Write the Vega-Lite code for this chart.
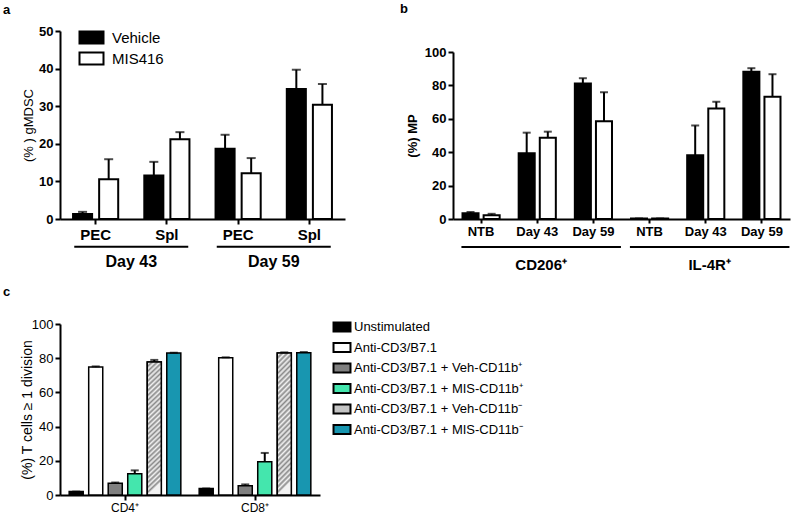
{
  "$schema": "https://vega.github.io/schema/vega-lite/v6.json",
  "padding": {"left": 3, "top": 3, "right": 0, "bottom": 0},
  "config": {
    "font": "Liberation Sans",
    "view": {"stroke": null},
    "axis": {"domainColor": "black", "domainWidth": 2, "tickColor": "black", "tickWidth": 2, "tickSize": 5, "labelColor": "black", "titleColor": "black", "grid": false, "labelOverlap": false},
    "title": {"font": "Liberation Sans", "fontSize": 13, "fontWeight": "bold", "anchor": "start", "color": "black"}
  },
  "datasets": {
    "a": [
      {"site": "PEC 43", "group": "Vehicle", "mean": 1.3, "upper": 1.9},
      {"site": "PEC 43", "group": "MIS416", "mean": 10.6, "upper": 15.9},
      {"site": "Spl 43", "group": "Vehicle", "mean": 11.6, "upper": 15.2},
      {"site": "Spl 43", "group": "MIS416", "mean": 21.2, "upper": 23.1},
      {"site": "PEC 59", "group": "Vehicle", "mean": 18.7, "upper": 22.4},
      {"site": "PEC 59", "group": "MIS416", "mean": 12.2, "upper": 16.2},
      {"site": "Spl 59", "group": "Vehicle", "mean": 34.6, "upper": 39.7},
      {"site": "Spl 59", "group": "MIS416", "mean": 30.4, "upper": 35.9}
    ],
    "aDays": [
      {"day": "Day 43", "from": "PEC 43", "to": "Spl 43"},
      {"day": "Day 59", "from": "PEC 59", "to": "Spl 59"}
    ],
    "b": [
      {"cat": "NTB|CD206", "group": "Vehicle", "mean": 3.4, "upper": 4.2},
      {"cat": "NTB|CD206", "group": "MIS416", "mean": 2.3, "upper": 3.1},
      {"cat": "D43|CD206", "group": "Vehicle", "mean": 39.4, "upper": 51.7},
      {"cat": "D43|CD206", "group": "MIS416", "mean": 48.7, "upper": 52.3},
      {"cat": "D59|CD206", "group": "Vehicle", "mean": 81.1, "upper": 84.3},
      {"cat": "D59|CD206", "group": "MIS416", "mean": 58.6, "upper": 75.9},
      {"cat": "NTB|IL4R", "group": "Vehicle", "mean": 0.3, "upper": 0.3},
      {"cat": "NTB|IL4R", "group": "MIS416", "mean": 0.3, "upper": 0.3},
      {"cat": "D43|IL4R", "group": "Vehicle", "mean": 38.2, "upper": 56.0},
      {"cat": "D43|IL4R", "group": "MIS416", "mean": 66.2, "upper": 70.2},
      {"cat": "D59|IL4R", "group": "Vehicle", "mean": 88.1, "upper": 90.3},
      {"cat": "D59|IL4R", "group": "MIS416", "mean": 73.2, "upper": 86.7}
    ],
    "bGroups": [
      {"marker": "CD206⁺", "from": "NTB|CD206", "mid": "D43|CD206", "to": "D59|CD206"},
      {"marker": "IL-4R⁺", "from": "NTB|IL4R", "mid": "D43|IL4R", "to": "D59|IL4R"}
    ],
    "c": [
      {"cell": "CD4⁺", "treatment": "Unstimulated", "mean": 2.0, "upper": 2.0},
      {"cell": "CD4⁺", "treatment": "Anti-CD3/B7.1", "mean": 74.8, "upper": 75.2},
      {"cell": "CD4⁺", "treatment": "Anti-CD3/B7.1 + Veh-CD11b⁺", "mean": 6.8, "upper": 7.3},
      {"cell": "CD4⁺", "treatment": "Anti-CD3/B7.1 + MIS-CD11b⁺", "mean": 12.4, "upper": 14.4},
      {"cell": "CD4⁺", "treatment": "Anti-CD3/B7.1 + Veh-CD11b⁻", "mean": 77.8, "upper": 79.0},
      {"cell": "CD4⁺", "treatment": "Anti-CD3/B7.1 + MIS-CD11b⁻", "mean": 83.0, "upper": 83.2},
      {"cell": "CD8⁺", "treatment": "Unstimulated", "mean": 3.8, "upper": 3.8},
      {"cell": "CD8⁺", "treatment": "Anti-CD3/B7.1", "mean": 80.2, "upper": 80.5},
      {"cell": "CD8⁺", "treatment": "Anti-CD3/B7.1 + Veh-CD11b⁺", "mean": 5.4, "upper": 6.2},
      {"cell": "CD8⁺", "treatment": "Anti-CD3/B7.1 + MIS-CD11b⁺", "mean": 19.5, "upper": 24.6},
      {"cell": "CD8⁺", "treatment": "Anti-CD3/B7.1 + Veh-CD11b⁻", "mean": 83.0, "upper": 83.4},
      {"cell": "CD8⁺", "treatment": "Anti-CD3/B7.1 + MIS-CD11b⁻", "mean": 83.2, "upper": 83.6}
    ]
  },
  "resolve": {"scale": {"x": "independent", "y": "independent", "xOffset": "independent", "fill": "independent"}, "legend": {"fill": "independent"}},
  "spacing": 13,
  "vconcat": [
    {
      "resolve": {"scale": {"x": "independent", "y": "independent", "xOffset": "independent", "fill": "independent"}, "legend": {"fill": "independent"}},
      "spacing": 55,
      "hconcat": [
        {
          "title": {"text": "a", "dx": -19, "offset": 8},
          "width": 285,
          "height": 188,
          "layer": [
            {
              "data": {"name": "a"},
              "mark": {"type": "bar", "stroke": "black", "strokeWidth": 2},
              "encoding": {
                "x": {"field": "site", "type": "nominal", "scale": {"domain": ["PEC 43", "Spl 43", "PEC 59", "Spl 59"], "paddingInner": 0, "paddingOuter": 0},
                      "axis": {"title": null, "labelExpr": "split(datum.value, ' ')[0]", "labelAngle": 0, "labelFontSize": 15, "labelFontWeight": "bold", "labelPadding": 3, "bandPosition": 0.5}},
                "xOffset": {"field": "group", "type": "nominal", "scale": {"domain": ["Vehicle", "MIS416"], "paddingInner": 0.27, "paddingOuter": 0.5}},
                "y": {"field": "mean", "type": "quantitative", "scale": {"domain": [0, 50], "nice": false},
                      "axis": {"title": "(% ) gMDSC", "values": [0, 10, 20, 30, 40, 50], "tickCount": 6, "labelOverlap": false, "labelFontSize": 13, "labelFontWeight": "bold", "titleFontSize": 13, "titleFontWeight": "normal", "labelPadding": 2, "minExtent": 22, "maxExtent": 22, "titlePadding": 3}},
                "fill": {"field": "group", "type": "nominal", "scale": {"domain": ["Vehicle", "MIS416"], "range": ["#000000", "#ffffff"]},
                         "legend": {"title": null, "orient": "none", "legendX": 24, "legendY": -1, "symbolType": "M-2,-1H2V1H-2Z", "symbolSize": 144, "symbolStrokeColor": "black", "symbolStrokeWidth": 2, "labelFontSize": 15, "labelOffset": 13, "rowPadding": 0, "labelColor": "black"}}
              }
            },
            {
              "data": {"name": "a"},
              "mark": {"type": "rule", "strokeWidth": 2, "color": "black"},
              "encoding": {
                "x": {"field": "site", "type": "nominal", "scale": {"domain": ["PEC 43", "Spl 43", "PEC 59", "Spl 59"]}},
                "xOffset": {"field": "group", "type": "nominal", "scale": {"domain": ["Vehicle", "MIS416"]}},
                "y": {"field": "mean", "type": "quantitative", "scale": {"domain": [0, 50]}},
                "y2": {"field": "upper"}
              }
            },
            {
              "data": {"name": "a"},
              "mark": {"type": "tick", "orient": "horizontal", "size": 9, "thickness": 2, "color": "black"},
              "encoding": {
                "x": {"field": "site", "type": "nominal", "scale": {"domain": ["PEC 43", "Spl 43", "PEC 59", "Spl 59"]}},
                "xOffset": {"field": "group", "type": "nominal", "scale": {"domain": ["Vehicle", "MIS416"]}},
                "y": {"field": "upper", "type": "quantitative", "scale": {"domain": [0, 50]}}
              }
            },
            {
              "data": {"name": "aDays"},
              "mark": {"type": "rule", "strokeWidth": 2, "color": "black"},
              "encoding": {
                "x": {"field": "from", "type": "nominal", "bandPosition": 0.2, "scale": {"domain": ["PEC 43", "Spl 43", "PEC 59", "Spl 59"]}},
                "x2": {"field": "to", "bandPosition": 0.8},
                "y": {"datum": -7.4, "type": "quantitative", "scale": {"domain": [0, 50]}}
              }
            },
            {
              "data": {"name": "aDays"},
              "mark": {"type": "text", "fontSize": 16, "fontWeight": "bold", "baseline": "middle", "color": "black"},
              "encoding": {
                "x": {"field": "from", "type": "nominal", "bandPosition": 1, "scale": {"domain": ["PEC 43", "Spl 43", "PEC 59", "Spl 59"]}},
                "y": {"datum": -11.4, "type": "quantitative", "scale": {"domain": [0, 50]}},
                "text": {"field": "day"}
              }
            }
          ]
        },
        {
          "title": {"text": "b", "dx": -6, "offset": 15},
          "width": 337,
          "height": 188,
          "layer": [
            {
              "data": {"name": "b"},
              "mark": {"type": "bar", "stroke": "black", "strokeWidth": 2},
              "encoding": {
                "x": {"field": "cat", "type": "nominal", "scale": {"domain": ["NTB|CD206", "D43|CD206", "D59|CD206", "NTB|IL4R", "D43|IL4R", "D59|IL4R"], "paddingInner": 0, "paddingOuter": 0},
                      "axis": {"title": null, "labelExpr": "datum.value[0] == 'N' ? 'NTB' : (slice(datum.value, 1, 3) == '43' ? 'Day 43' : 'Day 59')", "labelAngle": 0, "labelFontSize": 13, "labelFontWeight": "bold", "labelPadding": 2, "tickSize": 4, "bandPosition": 0.5}},
                "xOffset": {"field": "group", "type": "nominal", "scale": {"domain": ["Vehicle", "MIS416"], "paddingInner": 0.24, "paddingOuter": 0.45}},
                "y": {"field": "mean", "type": "quantitative", "scale": {"domain": [0, 100], "nice": false, "range": [188, 21]},
                      "axis": {"title": "(%) MP", "values": [0, 20, 40, 60, 80, 100], "tickCount": 6, "labelOverlap": false, "labelFontSize": 13, "labelFontWeight": "bold", "titleFontSize": 13, "titleFontWeight": "bold", "labelPadding": 2, "minExtent": 32, "maxExtent": 32, "titlePadding": 2}},
                "fill": {"field": "group", "type": "nominal", "scale": {"domain": ["Vehicle", "MIS416"], "range": ["#000000", "#ffffff"]}, "legend": null}
              }
            },
            {
              "data": {"name": "b"},
              "mark": {"type": "rule", "strokeWidth": 2, "color": "black"},
              "encoding": {
                "x": {"field": "cat", "type": "nominal", "scale": {"domain": ["NTB|CD206", "D43|CD206", "D59|CD206", "NTB|IL4R", "D43|IL4R", "D59|IL4R"]}},
                "xOffset": {"field": "group", "type": "nominal", "scale": {"domain": ["Vehicle", "MIS416"]}},
                "y": {"field": "mean", "type": "quantitative", "scale": {"domain": [0, 100]}},
                "y2": {"field": "upper"}
              }
            },
            {
              "data": {"name": "b"},
              "mark": {"type": "tick", "orient": "horizontal", "size": 8, "thickness": 2, "color": "black"},
              "encoding": {
                "x": {"field": "cat", "type": "nominal", "scale": {"domain": ["NTB|CD206", "D43|CD206", "D59|CD206", "NTB|IL4R", "D43|IL4R", "D59|IL4R"]}},
                "xOffset": {"field": "group", "type": "nominal", "scale": {"domain": ["Vehicle", "MIS416"]}},
                "y": {"field": "upper", "type": "quantitative", "scale": {"domain": [0, 100]}}
              }
            },
            {
              "data": {"name": "bGroups"},
              "mark": {"type": "rule", "strokeWidth": 2, "color": "black"},
              "encoding": {
                "x": {"field": "from", "type": "nominal", "bandPosition": 0.15, "scale": {"domain": ["NTB|CD206", "D43|CD206", "D59|CD206", "NTB|IL4R", "D43|IL4R", "D59|IL4R"]}},
                "x2": {"field": "to", "bandPosition": 0.99},
                "y": {"datum": -16.8, "type": "quantitative", "scale": {"domain": [0, 100]}}
              }
            },
            {
              "data": {"name": "bGroups"},
              "mark": {"type": "text", "fontSize": 15, "fontWeight": "bold", "baseline": "middle", "color": "black"},
              "encoding": {
                "x": {"field": "mid", "type": "nominal", "bandPosition": 0.57, "scale": {"domain": ["NTB|CD206", "D43|CD206", "D59|CD206", "NTB|IL4R", "D43|IL4R", "D59|IL4R"]}},
                "y": {"datum": -27.5, "type": "quantitative", "scale": {"domain": [0, 100]}},
                "text": {"field": "marker"}
              }
            }
          ]
        }
      ]
    },
    {
      "title": {"text": "c", "dx": -17, "offset": 19},
      "width": 260,
      "height": 171,
      "layer": [
        {
          "data": {"name": "c"},
          "mark": {"type": "bar", "stroke": "black", "strokeWidth": 1.5},
          "encoding": {
            "x": {"field": "cell", "type": "nominal", "scale": {"domain": ["CD4⁺", "CD8⁺"], "paddingInner": 0, "paddingOuter": 0},
                  "axis": {"title": null, "labelAngle": 0, "labelFontSize": 12, "labelPadding": 2, "bandPosition": 0.5}},
            "xOffset": {"field": "treatment", "type": "nominal", "scale": {"domain": ["Unstimulated", "Anti-CD3/B7.1", "Anti-CD3/B7.1 + Veh-CD11b⁺", "Anti-CD3/B7.1 + MIS-CD11b⁺", "Anti-CD3/B7.1 + Veh-CD11b⁻", "Anti-CD3/B7.1 + MIS-CD11b⁻"], "paddingInner": 0.28, "paddingOuter": 0.47}},
            "y": {"field": "mean", "type": "quantitative", "scale": {"domain": [0, 100], "nice": false},
                  "axis": {"title": "(%) T cells ≥ 1 division", "values": [0, 20, 40, 60, 80, 100], "tickCount": 6, "labelOverlap": false, "labelFontSize": 13, "titleFontSize": 14, "titleFontWeight": "normal", "labelPadding": 2, "minExtent": 26, "maxExtent": 26, "titlePadding": 0}},
            "fill": {"field": "treatment", "type": "nominal",
                     "scale": {"domain": ["Unstimulated", "Anti-CD3/B7.1", "Anti-CD3/B7.1 + Veh-CD11b⁺", "Anti-CD3/B7.1 + MIS-CD11b⁺", "Anti-CD3/B7.1 + Veh-CD11b⁻", "Anti-CD3/B7.1 + MIS-CD11b⁻"], "range": ["#000000", "#ffffff", "#808080", "#44e6ad", "#c4c4c4", "#1896b0"]},
                     "legend": {"title": null, "orient": "none", "legendX": 275, "legendY": -4, "symbolType": "M-1.5,-0.8H1.5V0.8H-1.5Z", "symbolSize": 128, "symbolStrokeColor": "black", "symbolStrokeWidth": 2, "labelFontSize": 13, "labelOffset": 5, "rowPadding": 2.5, "labelColor": "black", "labelLimit": 400}}
          }
        },
        {
          "data": {"name": "c"},
          "transform": [{"filter": "datum.treatment == 'Anti-CD3/B7.1 + Veh-CD11b⁻'"}],
          "mark": {"type": "bar", "stroke": "black", "strokeWidth": 1.5,
                   "fill": {"gradient": "linear", "x1": 0, "y1": 0, "x2": 0.1, "y2": 1, "stops": [
                     {"offset": 0, "color": "#8a8a8a"}, {"offset": 0.018, "color": "#f2f2f2"}, {"offset": 0.036, "color": "#8a8a8a"}, {"offset": 0.054, "color": "#f2f2f2"},
                     {"offset": 0.072, "color": "#8a8a8a"}, {"offset": 0.09, "color": "#f2f2f2"}, {"offset": 0.108, "color": "#8a8a8a"}, {"offset": 0.126, "color": "#f2f2f2"},
                     {"offset": 0.144, "color": "#8a8a8a"}, {"offset": 0.162, "color": "#f2f2f2"}, {"offset": 0.18, "color": "#8a8a8a"}, {"offset": 0.198, "color": "#f2f2f2"},
                     {"offset": 0.216, "color": "#8a8a8a"}, {"offset": 0.234, "color": "#f2f2f2"}, {"offset": 0.252, "color": "#8a8a8a"}, {"offset": 0.27, "color": "#f2f2f2"},
                     {"offset": 0.288, "color": "#8a8a8a"}, {"offset": 0.306, "color": "#f2f2f2"}, {"offset": 0.324, "color": "#8a8a8a"}, {"offset": 0.342, "color": "#f2f2f2"},
                     {"offset": 0.36, "color": "#8a8a8a"}, {"offset": 0.378, "color": "#f2f2f2"}, {"offset": 0.396, "color": "#8a8a8a"}, {"offset": 0.414, "color": "#f2f2f2"},
                     {"offset": 0.432, "color": "#8a8a8a"}, {"offset": 0.45, "color": "#f2f2f2"}, {"offset": 0.468, "color": "#8a8a8a"}, {"offset": 0.486, "color": "#f2f2f2"},
                     {"offset": 0.504, "color": "#8a8a8a"}, {"offset": 0.522, "color": "#f2f2f2"}, {"offset": 0.54, "color": "#8a8a8a"}, {"offset": 0.558, "color": "#f2f2f2"},
                     {"offset": 0.576, "color": "#8a8a8a"}, {"offset": 0.594, "color": "#f2f2f2"}, {"offset": 0.612, "color": "#8a8a8a"}, {"offset": 0.63, "color": "#f2f2f2"},
                     {"offset": 0.648, "color": "#8a8a8a"}, {"offset": 0.666, "color": "#f2f2f2"}, {"offset": 0.684, "color": "#8a8a8a"}, {"offset": 0.702, "color": "#f2f2f2"},
                     {"offset": 0.72, "color": "#8a8a8a"}, {"offset": 0.738, "color": "#f2f2f2"}, {"offset": 0.756, "color": "#8a8a8a"}, {"offset": 0.774, "color": "#f2f2f2"},
                     {"offset": 0.792, "color": "#8a8a8a"}, {"offset": 0.81, "color": "#f2f2f2"}, {"offset": 0.828, "color": "#8a8a8a"}, {"offset": 0.846, "color": "#f2f2f2"},
                     {"offset": 0.864, "color": "#8a8a8a"}, {"offset": 0.882, "color": "#f2f2f2"}, {"offset": 0.9, "color": "#8a8a8a"}, {"offset": 0.918, "color": "#f2f2f2"},
                     {"offset": 0.936, "color": "#8a8a8a"}, {"offset": 0.954, "color": "#f2f2f2"}, {"offset": 0.972, "color": "#8a8a8a"}, {"offset": 0.99, "color": "#f2f2f2"}
                   ]}},
          "encoding": {
            "x": {"field": "cell", "type": "nominal", "scale": {"domain": ["CD4⁺", "CD8⁺"]}},
            "xOffset": {"field": "treatment", "type": "nominal", "scale": {"domain": ["Unstimulated", "Anti-CD3/B7.1", "Anti-CD3/B7.1 + Veh-CD11b⁺", "Anti-CD3/B7.1 + MIS-CD11b⁺", "Anti-CD3/B7.1 + Veh-CD11b⁻", "Anti-CD3/B7.1 + MIS-CD11b⁻"]}},
            "y": {"field": "mean", "type": "quantitative", "scale": {"domain": [0, 100]}}
          }
        },
        {
          "data": {"name": "c"},
          "mark": {"type": "rule", "strokeWidth": 2, "color": "black"},
          "encoding": {
            "x": {"field": "cell", "type": "nominal", "scale": {"domain": ["CD4⁺", "CD8⁺"]}},
            "xOffset": {"field": "treatment", "type": "nominal", "scale": {"domain": ["Unstimulated", "Anti-CD3/B7.1", "Anti-CD3/B7.1 + Veh-CD11b⁺", "Anti-CD3/B7.1 + MIS-CD11b⁺", "Anti-CD3/B7.1 + Veh-CD11b⁻", "Anti-CD3/B7.1 + MIS-CD11b⁻"]}},
            "y": {"field": "mean", "type": "quantitative", "scale": {"domain": [0, 100]}},
            "y2": {"field": "upper"}
          }
        },
        {
          "data": {"name": "c"},
          "mark": {"type": "tick", "orient": "horizontal", "size": 8, "thickness": 2, "color": "black"},
          "encoding": {
            "x": {"field": "cell", "type": "nominal", "scale": {"domain": ["CD4⁺", "CD8⁺"]}},
            "xOffset": {"field": "treatment", "type": "nominal", "scale": {"domain": ["Unstimulated", "Anti-CD3/B7.1", "Anti-CD3/B7.1 + Veh-CD11b⁺", "Anti-CD3/B7.1 + MIS-CD11b⁺", "Anti-CD3/B7.1 + Veh-CD11b⁻", "Anti-CD3/B7.1 + MIS-CD11b⁻"]}},
            "y": {"field": "upper", "type": "quantitative", "scale": {"domain": [0, 100]}}
          }
        }
      ]
    }
  ]
}
